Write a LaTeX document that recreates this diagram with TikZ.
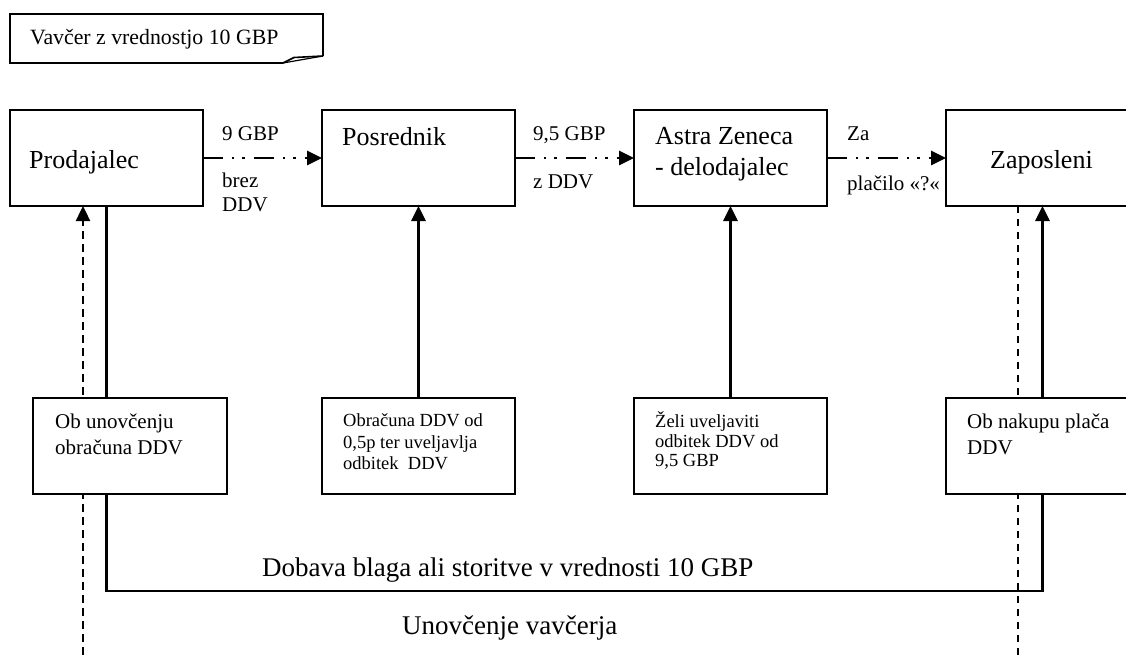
\documentclass[tikz,border=0pt]{standalone}
\usepackage{fontspec}
\setmainfont{Liberation Serif}
\usetikzlibrary{arrows.meta,backgrounds}
\tikzset{
  box/.style={draw,line width=2pt,fill=white,minimum width=193pt,minimum height=96pt,inner sep=0pt,outer sep=0pt,anchor=north west},
  lbl/.style={inner sep=0pt,anchor=base west},
  bigtxt/.style={lbl,font=\fontsize{26}{31}\selectfont},
  midtxt/.style={lbl,font=\fontsize{21}{25}\selectfont},
  notetxt/.style={lbl,font=\fontsize{21.8}{25}\selectfont},
  smalltxt/.style={lbl,font=\fontsize{18.5}{21}\selectfont},
  longtxt/.style={lbl,font=\fontsize{27}{31}\selectfont},
  tip/.style={-{Triangle[length=15pt,width=14pt]}},
  uparrow/.style={tip,line width=2.8pt},
  flow/.style={tip,line width=2.8pt,dash pattern=on 20pt off 9pt on 2.4pt off 8pt on 2.4pt off 9pt},
  voucher/.style={line width=2.4pt,dash pattern=on 8pt off 5pt},
  voucherthin/.style={line width=2pt,dash pattern=on 7pt off 6pt},
  plain/.style={line width=2.1pt}
}
\begin{document}
\begin{tikzpicture}[x=1pt,y=-1pt]
\useasboundingbox (0,0) rectangle (1126,661);
\clip (0,0) rectangle (1126,661);

% note
\draw[line width=2pt,line join=miter] (283,63) -- (10,63) -- (10,14) -- (323,14) -- (323,56);
\draw[line width=1.6pt] (283,63) -- (294,57.5) -- (323,56);
\draw[line width=1.2pt] (283,63) -- (303,59.5) -- (323,56);
\node[notetxt] (note) at (30,45) {Vavčer z vrednostjo 10 GBP};

% boxes
\node[box] (prod) at (10,110) {};
\node[box] (posr) at (322,110) {};
\node[box] (astra) at (634,110) {};
\node[box] (zap) at (946,110) {};
\node[box,minimum width=194pt] (obunov) at (33,398) {};
\node[box] (obrac) at (322,398) {};
\node[box] (zeli) at (634,398) {};
\node[box] (obnak) at (946,398) {};

% voucher (dashed) lines behind the boxes
\coordinate (dl) at (83,655);
\coordinate (dr) at (1018,655);
\begin{pgfonlayer}{background}
\draw[voucher,tip] (dl) -- (dl |- prod.south);
\draw[voucherthin] (zap.south -| dr) -- (dr);
\end{pgfonlayer}

% box texts
\node[bigtxt] (tprod) at (29,168) {Prodajalec};
\node[bigtxt] (tposr) at (342,145) {Posrednik};
\node[bigtxt] (tastra1) at (655,144) {Astra Zeneca};
\node[bigtxt] (tastra2) at (655,175) {- delodajalec};
\node[bigtxt] (tzap) at (990,168) {Zaposleni};

\node[midtxt] (t1a) at (55,428) {Ob unovčenju};
\node[midtxt] (t1b) at (55,454) {obračuna DDV};
\node[smalltxt] (t2a) at (343,426) {Obračuna DDV od};
\node[smalltxt] (t2b) at (343,448) {0,5p ter uveljavlja};
\node[smalltxt] (t2c) at (343,469) {odbitek\ \ DDV};
\node[smalltxt] (t3a) at (655,427) {Želi uveljaviti};
\node[smalltxt] (t3b) at (655,447) {odbitek DDV od};
\node[smalltxt] (t3c) at (655,466) {9,5 GBP};
\node[midtxt] (t4a) at (967,428) {Ob nakupu plača};
\node[midtxt] (t4b) at (967,454) {DDV};

% flow arrows
\draw[flow] (prod.east) -- (posr.west);
\draw[flow] (posr.east) -- (astra.west);
\draw[flow] (astra.east) -- (zap.west);
\node[midtxt] (l1a) at (222,140) {9 GBP};
\node[midtxt] (l1b) at (222,187) {brez};
\node[midtxt] (l1c) at (222,211) {DDV};
\node[midtxt] (l2a) at (533,140) {9,5 GBP};
\node[midtxt] (l2b) at (533,188) {z DDV};
\node[midtxt] (l3a) at (847,140) {Za};
\node[midtxt] (l3b) at (847,190) {plačilo «?«};

% vertical arrows
\draw[uparrow] (obrac.north) -- (posr.south);
\draw[uparrow] (zeli.north) -- (astra.south);
\draw[uparrow] (obnak.north) -- (zap.south);

% supply loop
\coordinate (loopl) at (prod.south |- 0,591);
\draw[plain] (prod.south) -- (prod.south |- obunov.north);
\draw[plain,line join=miter] (prod.south |- obunov.south) -- (loopl) -- (loopl -| obnak.south) -- (obnak.south);

\node[longtxt] (supply) at (262,576) {Dobava blaga ali storitve v vrednosti 10 GBP};
\node[longtxt] (redeem) at (402,634) {Unovčenje vavčerja};
\end{tikzpicture}
\end{document}
